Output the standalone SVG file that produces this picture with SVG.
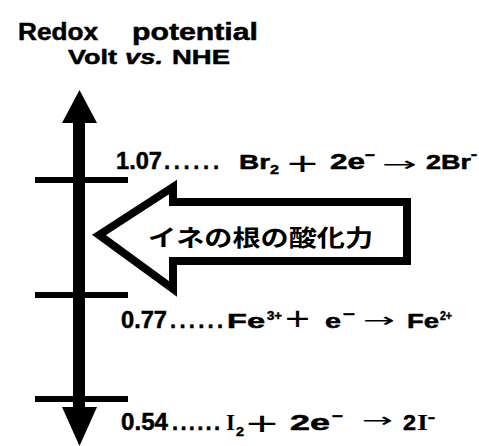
<svg xmlns="http://www.w3.org/2000/svg" width="479" height="446" viewBox="0 0 479 446">
<style>
.t{font-family:"Liberation Sans",Arial,sans-serif;font-weight:bold;fill:#000;stroke:#000;stroke-width:0.5}
.n{font-size:24px}
.l{font-size:21px}
.d{font-size:22px}
.sub{font-size:13px}
.sup{font-size:12px}
.pl{font-family:"Liberation Sans",Arial,sans-serif;font-weight:normal;font-size:34px;fill:#000}
.ar{font-family:"DejaVu Sans",sans-serif;font-weight:normal;font-size:20px;fill:#000}
.mn{font-size:15px}
.sr{font-family:"Liberation Serif","Times New Roman",serif;font-weight:bold;font-size:24px;fill:#000}
.tick{fill:#000}
.cj{font-family:"Noto Sans CJK JP","Noto Sans CJK SC",sans-serif;font-weight:bold;font-size:23px;fill:#000}
</style>
<rect width="479" height="446" fill="#fff"/>
<g id="title">
<text class="t" x="18" y="40" font-size="24" textLength="80" lengthAdjust="spacingAndGlyphs">Redox</text>
<text class="t" x="132" y="40" font-size="24" textLength="126" lengthAdjust="spacingAndGlyphs">potential</text>
<text class="t" x="68" y="64" font-size="21" textLength="49" lengthAdjust="spacingAndGlyphs">Volt</text>
<text class="t" x="125" y="64" font-size="21" font-style="italic" textLength="38" lengthAdjust="spacingAndGlyphs">vs.</text>
<text class="t" x="172" y="64" font-size="21" textLength="58" lengthAdjust="spacingAndGlyphs">NHE</text>
</g>
<g id="connectors">
<g id="axis">
<rect x="73" y="118" width="12" height="292" fill="#000"/>
<polygon points="62,123 79.5,90 97,123" fill="#000"/>
<polygon points="62,407 97,407 79.5,446" fill="#000"/>
</g>
</g>
<g id="level-107">
<rect class="tick" x="35" y="177" width="93" height="6"/>
<text class="t n" x="116" y="169" textLength="46" lengthAdjust="spacingAndGlyphs">1.07</text>
<text class="t d" x="164" y="169" textLength="55">......</text>
<text class="t l" x="239" y="169" textLength="31" lengthAdjust="spacingAndGlyphs">Br</text>
<text class="t sub" x="270" y="174" textLength="9" lengthAdjust="spacingAndGlyphs">2</text>
<text class="pl" x="287" y="175" textLength="31" lengthAdjust="spacingAndGlyphs">+</text>
<text class="t d" x="330" y="169" textLength="35" lengthAdjust="spacingAndGlyphs">2e</text>
<text class="t mn" x="365" y="160" textLength="10" lengthAdjust="spacingAndGlyphs">−</text>
<text class="ar" x="382" y="170.5" textLength="35" lengthAdjust="spacingAndGlyphs">→</text>
<text class="t l" x="426" y="169" textLength="45" lengthAdjust="spacingAndGlyphs">2Br</text>
<text class="t mn" x="471" y="160" textLength="6" lengthAdjust="spacingAndGlyphs">−</text>
</g>
<g id="level-077">
<rect class="tick" x="35" y="292" width="93" height="6"/>
<text class="t n" x="121" y="328" textLength="46" lengthAdjust="spacingAndGlyphs">0.77</text>
<text class="t d" x="170" y="328" textLength="53">......</text>
<text class="t l" x="227" y="328" textLength="38" lengthAdjust="spacingAndGlyphs">Fe</text>
<text class="t sup" x="267" y="320" textLength="15" lengthAdjust="spacingAndGlyphs">3+</text>
<text class="pl" x="285" y="330" textLength="25" lengthAdjust="spacingAndGlyphs">+</text>
<text class="t l" x="325" y="328" textLength="16" lengthAdjust="spacingAndGlyphs">e</text>
<text class="t mn" x="343" y="319" textLength="12" lengthAdjust="spacingAndGlyphs">−</text>
<text class="ar" x="363" y="326.5" textLength="32" lengthAdjust="spacingAndGlyphs">→</text>
<text class="t l" x="407" y="328" textLength="32" lengthAdjust="spacingAndGlyphs">Fe</text>
<text class="t sup" x="440" y="320" textLength="12" lengthAdjust="spacingAndGlyphs">2+</text>
</g>
<g id="level-054">
<rect class="tick" x="35" y="396" width="93" height="6"/>
<text class="t n" x="121" y="430" textLength="47" lengthAdjust="spacingAndGlyphs">0.54</text>
<text class="t d" x="172" y="430" textLength="48">......</text>
<text class="sr" x="226" y="430" textLength="9" lengthAdjust="spacingAndGlyphs">I</text>
<text class="t sub" x="236" y="436" textLength="8" lengthAdjust="spacingAndGlyphs">2</text>
<text class="pl" x="246" y="435" textLength="32" lengthAdjust="spacingAndGlyphs">+</text>
<text class="t d" x="290" y="430" textLength="40" lengthAdjust="spacingAndGlyphs">2e</text>
<text class="t mn" x="332" y="421" textLength="11" lengthAdjust="spacingAndGlyphs">−</text>
<text class="ar" x="362" y="426.5" textLength="31" lengthAdjust="spacingAndGlyphs">→</text>
<text class="t d" x="403" y="430" textLength="13" lengthAdjust="spacingAndGlyphs">2</text>
<text class="sr" x="417" y="430" textLength="11" lengthAdjust="spacingAndGlyphs">I</text>
<text class="t mn" x="428" y="423" textLength="7" lengthAdjust="spacingAndGlyphs">−</text>
</g>
<g id="oxidizing-power">
<polygon points="99,235 173,187 173,202 407,202 407,261 173,261 173,289" fill="#fff" stroke="#000" stroke-width="8" stroke-linejoin="miter"/>
<text class="cj" x="148" y="246" textLength="225" lengthAdjust="spacingAndGlyphs">イネの根の酸化力</text>
</g>
</svg>
